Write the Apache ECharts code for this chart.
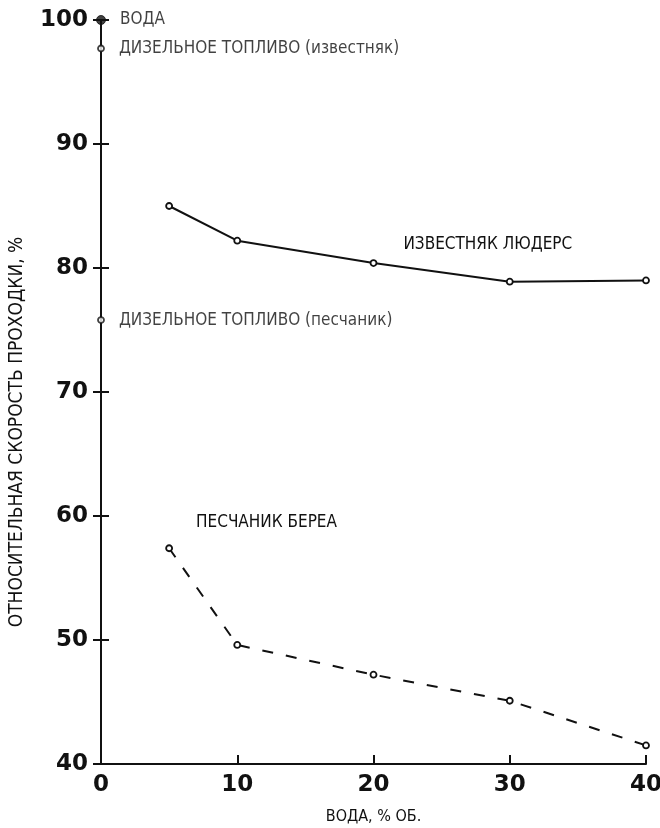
<!DOCTYPE html>
<html>
<head>
<meta charset="utf-8">
<script src="https://cdn.jsdelivr.net/npm/echarts@6/dist/echarts.min.js"></script>
<style>
  html, body { margin: 0; padding: 0; background: #fff; }
  #chart { width: 660px; height: 828px; }
</style>
</head>
<body>
<div id="chart"></div>
<script>
// water content, % vol.
const waterPct = [5, 10, 20, 30, 40];
// relative drilling rate, %
const limestoneLuders = [85.0, 82.2, 80.4, 78.9, 79.0];
const sandstoneBerea = [57.4, 49.6, 47.2, 45.1, 41.5];
// reference fluids at 0 % water
const refNames = ["ВОДА", "ДИЗЕЛЬНОЕ ТОПЛИВО (известняк)", "ДИЗЕЛЬНОЕ ТОПЛИВО (песчаник)"];
const refValues = [100, 97.7, 75.8];
const curveNames = ["ИЗВЕСТНЯК ЛЮДЕРС", "ПЕСЧАНИК БЕРЕА"];

const narrow = "'Liberation Sans Narrow', 'DejaVu Sans Condensed', sans-serif";
const tickFont = { fontFamily: "'DejaVu Sans', sans-serif", fontWeight: "bold", fontSize: 23, color: "#111" };

const chart = echarts.init(document.getElementById("chart"));

const pairs = (xs, ys) => xs.map((x, i) => [x, ys[i]]);

const option = {
  animation: false,
  grid: { left: 101, right: 14, top: 20, bottom: 64, outerBoundsMode: "none", containLabel: false },
  xAxis: [
    {
      type: "value", min: 0, max: 40, interval: 10,
      name: "ВОДА, % ОБ.", nameLocation: "middle", nameGap: 45,
      nameTextStyle: { fontFamily: narrow, fontSize: 16, color: "#111" },
      axisLine: { lineStyle: { color: "#111", width: 2 } },
      axisTick: { inside: true, length: 9, lineStyle: { color: "#111", width: 2 } },
      axisLabel: Object.assign({ margin: 10 }, tickFont),
      splitLine: { show: false }
    }
  ],
  yAxis: [
    {
      type: "value", min: 40, max: 100, interval: 10,
      name: "ОТНОСИТЕЛЬНАЯ СКОРОСТЬ ПРОХОДКИ, %", nameLocation: "middle", nameGap: 74,
      nameTextStyle: { fontFamily: narrow, fontSize: 19, color: "#111", padding: [0, 80, 0, 0] },
      axisLine: { lineStyle: { color: "#111", width: 2 } },
      axisTick: { length: 8, lineStyle: { color: "#111", width: 2 } },
      axisLabel: Object.assign({ margin: 13 }, tickFont),
      splitLine: { show: false }
    },
    {
      type: "value", min: 40, max: 100, interval: 10, position: "left",
      axisLine: { show: false },
      axisTick: { inside: true, length: 8, lineStyle: { color: "#111", width: 2 } },
      axisLabel: { show: false },
      splitLine: { show: false }
    }
  ],
  series: [
    {
      name: curveNames[0],
      type: "line",
      data: pairs(waterPct, limestoneLuders),
      symbol: "circle", symbolSize: 6,
      itemStyle: { color: "#fff", borderColor: "#111", borderWidth: 1.8 },
      lineStyle: { color: "#111", width: 2 },
      label: {
        show: true, position: "right", offset: [21, -18],
        formatter: p => p.dataIndex === 2 ? curveNames[0] : "",
        fontFamily: narrow, fontSize: 17, color: "#111"
      }
    },
    {
      name: curveNames[1],
      type: "line",
      data: pairs(waterPct, sandstoneBerea),
      symbol: "circle", symbolSize: 6,
      itemStyle: { color: "#fff", borderColor: "#111", borderWidth: 1.8 },
      lineStyle: { color: "#111", width: 2, type: [11, 13] },
      label: {
        show: true, position: "right", offset: [18, -26],
        formatter: p => p.dataIndex === 0 ? curveNames[1] : "",
        fontFamily: narrow, fontSize: 17, color: "#111"
      }
    },
    {
      name: "reference",
      type: "scatter",
      data: refValues.map((v, i) => ({
        value: [0, v],
        name: refNames[i],
        symbolSize: i === 0 ? 9 : 6,
        itemStyle: i === 0 ? { color: "#111", borderColor: "#111" } : { color: "#fff", borderColor: "#111", borderWidth: 1.8 }
      })),
      symbol: "circle",
      label: {
        show: true, position: "right", offset: [9, 0],
        formatter: p => p.name,
        fontFamily: narrow, fontSize: 17, color: "#111"
      },
      z: 5
    }
  ]
};

chart.setOption(option);
</script>
</body>
</html>
